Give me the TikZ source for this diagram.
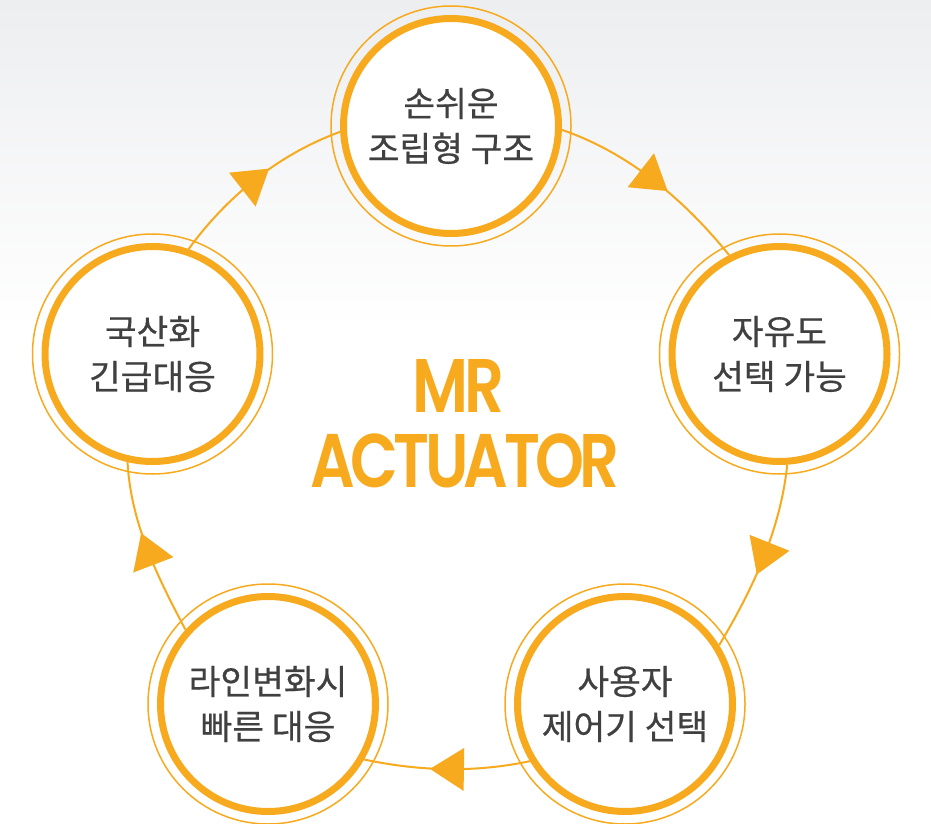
\documentclass[tikz,border=0pt]{standalone}
\usepackage{fontspec}
\newfontfamily\krfont{Noto Sans CJK KR}[FakeBold=0.5]
\newfontfamily\titlefont{Poppins SemiBold}[FakeStretch=0.82, LetterSpace=-6]
\usetikzlibrary{decorations.markings}
\definecolor{accent}{RGB}{248,170,30}
\definecolor{labelgray}{RGB}{64,64,64}
\definecolor{haze}{RGB}{237,238,240}
\begin{document}
\begin{tikzpicture}[x=1pt,y=1pt,
  stage/.style={circle, draw=accent, line width=7pt, fill=white,
    minimum size=215pt, inner sep=0pt, align=center, text=labelgray,
    font=\krfont\fontsize{34.5}{45}\selectfont},
  halo/.style={draw=accent, line width=1.5pt},
  flow/.style={draw=accent, line width=2pt, looseness=0.87,
    postaction={decorate},
    decoration={markings, mark=at position 0.5 with
      {\fill[accent] (17pt,0pt) -- (-17pt,21.5pt) -- (-17pt,-21.5pt) -- cycle;}}},
  title/.style={text=accent, font=\titlefont\fontsize{76}{76}\selectfont,
    inner sep=0pt, anchor=base}]

% canvas and soft grey wash at the top
\useasboundingbox (0,0) rectangle (931,823);
\fill[white] (0,0) rectangle (931,823);
\fill[top color=haze, bottom color=white] (0,493) rectangle (931,823);

% the five stages
\node[stage] (top)   at (451,697)   {손쉬운\\조립형 구조};
\node[stage] (right) at (779.5,469) {자유도\\선택 가능};
\node[stage] (br)    at (625,119)   {사용자\\제어기 선택};
\node[stage] (bl)    at (268,119)   {라인변화시\\빠른 대응};
\node[stage] (left)  at (152.5,469) {국산화\\긴급대응};

% thin outer rings
\foreach \n in {top,right,br,bl,left}
  \draw[halo] (\n.center) circle[radius=120pt];

% clockwise cycle
\draw[flow] (top.-2)    to[out=-19, in=129] (right.117);
\draw[flow] (right.-86) to[out=-96, in=59]  (br.32);
\draw[flow] (br.211)    to[out=192, in=-12] (bl.-30);
\draw[flow] (bl.138)    to[out=118, in=-87] (left.257);
\draw[flow] (left.71)   to[out=54,  in=200] (top.183);

% central title
\node[title] (mr)  at (458.5,411) {MR};
\node[title] (act) at (465,336)   {ACTUATOR};
\end{tikzpicture}
\end{document}
